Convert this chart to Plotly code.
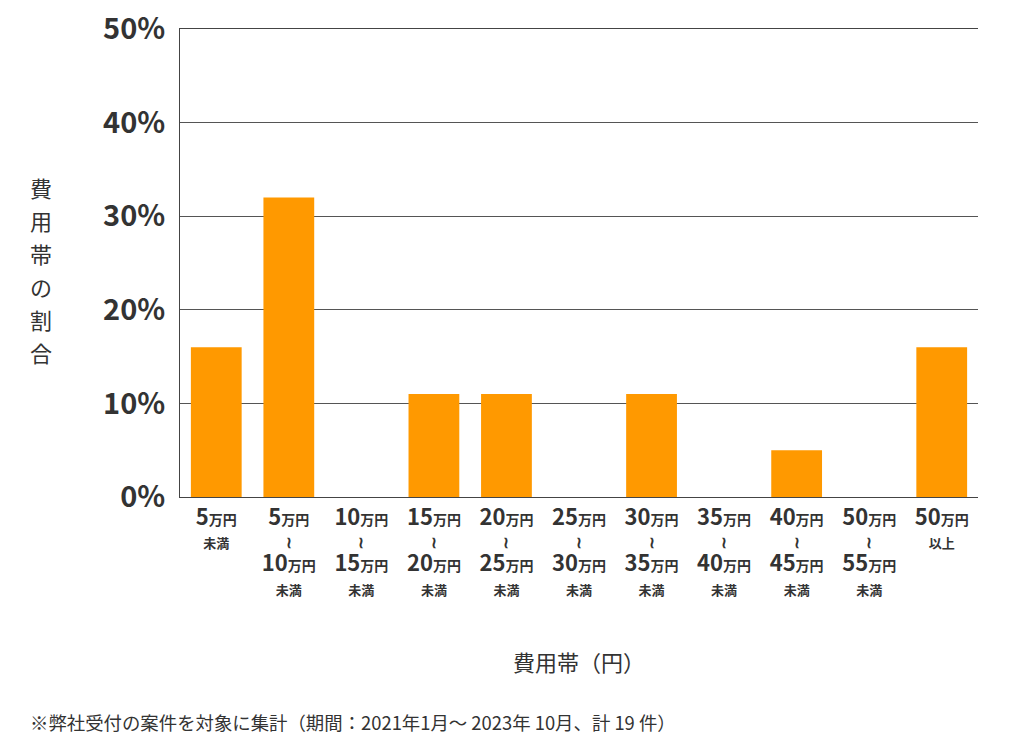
import plotly.graph_objects as go

categories = ["5万円未満", "5〜10万円未満", "10〜15万円未満", "15〜20万円未満", "20〜25万円未満",
              "25〜30万円未満", "30〜35万円未満", "35〜40万円未満", "40〜45万円未満",
              "50〜55万円未満", "50万円以上"]
values = [16, 32, 0, 11, 11, 0, 11, 0, 5, 0, 16]
lows = ["5", "5", "10", "15", "20", "25", "30", "35", "40", "50", "50"]
highs = [None, "10", "15", "20", "25", "30", "35", "40", "45", "55", None]
suffix_single = ["未満", None, None, None, None, None, None, None, None, None, "以上"]
y_ticks = [0, 10, 20, 30, 40, 50]
y_title_chars = ["費", "用", "帯", "の", "割", "合"]
x_title = "費用帯（円）"
footnote = "※弊社受付の案件を対象に集計（期間：2021年1月～ 2023年 10月、計 19 件）"

FONT = "Noto Sans CJK JP"
TXT = "#333333"

def big(n):
    return (f"<span style='font-size:22px'><b>{n}</b></span>"
            f"<span style='font-size:14px'><b>万円</b></span>")

def small(s):
    return f"<span style='font-size:13px'><b>{s}</b></span>"

ticktext = []
for lo, hi, suf in zip(lows, highs, suffix_single):
    if hi is None:
        ticktext.append(big(lo) + "<br>" + small(suf))
    else:
        ticktext.append(big(lo) + "<br><span style='font-size:16px'><b>≀</b></span><br>"
                        + big(hi) + "<br>" + small("未満"))

fig = go.Figure(go.Bar(
    x=categories, y=values, marker_color="#FF9900", marker_line_width=0, width=0.7,
))

W, H = 1024, 746
fig.update_layout(
    width=W, height=H,
    margin=dict(l=180, r=46, t=29, b=249, autoexpand=False),
    paper_bgcolor="white", plot_bgcolor="white",
    font=dict(family=FONT, color=TXT),
    showlegend=False,
)
fig.update_xaxes(
    tickmode="array", tickvals=categories, ticktext=ticktext,
    tickfont=dict(size=18, color=TXT, family=FONT),
    showline=True, linecolor="#444444", linewidth=1, mirror=True,
    ticks="", showgrid=False,
    ticklabelstandoff=5,
    range=[-0.5, 10.5],
)
fig.update_yaxes(
    range=[0, 50], tickmode="array", tickvals=y_ticks,
    ticktext=[f"{v}%" for v in y_ticks],
    tickfont=dict(size=29, color=TXT, family=FONT, weight="bold"),
    showline=True, linecolor="#444444", linewidth=1,
    gridcolor="#555555", gridwidth=1,
    ticklabelstandoff=8, ticklabeloverflow="allow",
    zeroline=False,
)
for i, ch in enumerate(y_title_chars):
    fig.add_annotation(
        text=ch, xref="paper", yref="paper",
        x=-0.1742, y=0.6624 - i * 0.0705, showarrow=False,
        xanchor="center", yanchor="middle",
        font=dict(size=22, color=TXT, family=FONT),
    )
fig.add_annotation(
    text=x_title, xref="paper", yref="paper", x=0.5, y=-0.3504,
    xanchor="center", yanchor="middle", showarrow=False,
    font=dict(size=22, color=TXT, family=FONT),
)
fig.add_annotation(
    text=footnote, xref="paper", yref="paper", x=-0.1905, y=-0.4808,
    xanchor="left", yanchor="middle", showarrow=False,
    font=dict(size=18.4, color=TXT, family=FONT),
)
fig.write_html("out.html", config={"displayModeBar": False},
               post_script="document.body.style.margin='0';")
